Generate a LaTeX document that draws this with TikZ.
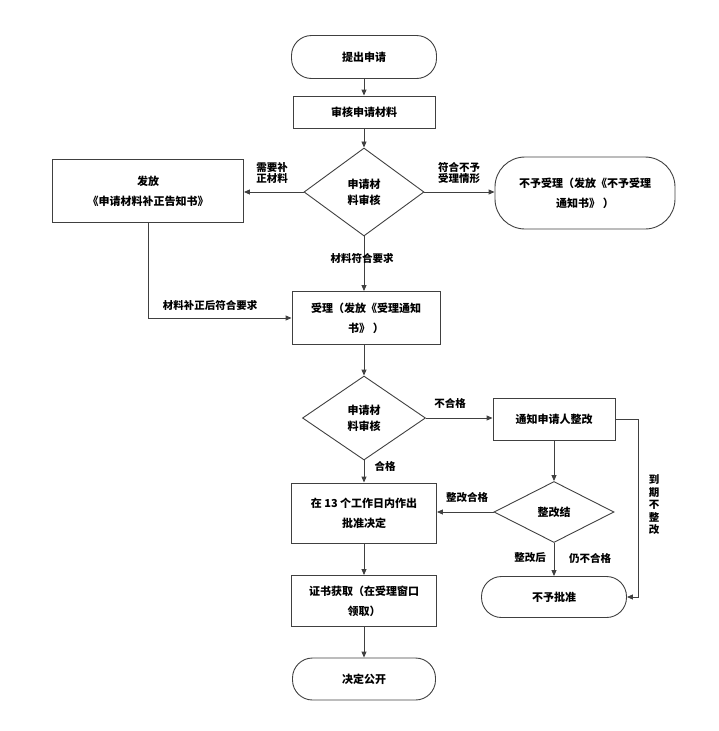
\documentclass[tikz,border=0pt]{standalone}
\usepackage{fontspec}
\setmainfont{Liberation Serif}
\newfontfamily\cjk{Noto Sans CJK SC}
\usepackage{tikz}
\usepackage{xcolor}
\usetikzlibrary{arrows.meta, positioning, shapes.geometric, calc}
\definecolor{LineGray}{HTML}{404040}

\begin{document}
\begin{tikzpicture}[
    x=1pt, y=-1pt,
    font=\cjk\bfseries\fontsize{11}{20}\selectfont,
    box/.style={rectangle, draw=LineGray, line width=0.9pt, align=center, inner sep=2pt},
    pill/.style={box, rounded corners=20pt},
    check/.style={diamond, draw=LineGray, line width=0.9pt, align=center, inner sep=0pt,
                  font=\cjk\bfseries\fontsize{11}{16}\selectfont},
    arr/.style={draw=LineGray, line width=0.9pt, -{Triangle[length=6pt, width=5pt]}},
    link/.style={draw=LineGray, line width=0.9pt},
    tag/.style={font=\cjk\bfseries\fontsize{10.5}{11.5}\selectfont, align=center, inner sep=1pt}
]
\useasboundingbox (0,0) rectangle (718,731);

% === Main column ===
\node[pill, minimum width=145pt, minimum height=43pt] (start) at (364,57) {提出申请};
\node[box, minimum width=142pt, minimum height=32pt] (review) at (364,112) {审核申请材料};
\node[check, minimum width=120pt, minimum height=88pt] (check1) at (364,192) {申请材\\料审核};
\node[box, minimum width=148pt, minimum height=53pt] (accept) at (366,318) {受理（发放《受理通知\\书》 ）};
\node[check, minimum width=123pt, minimum height=84pt] (check2) at (364,418) {申请材\\料审核};
\node[box, minimum width=145pt, minimum height=60pt] (decide) at (364,513) {在 13 个工作日内作出\\批准决定};
\node[box, minimum width=145pt, minimum height=51pt] (cert) at (364,601) {证书获取（在受理窗口\\领取）};
\node[pill, minimum width=143pt, minimum height=42pt] (publish) at (364,679) {决定公开};

% === Side nodes ===
\node[box, minimum width=191pt, minimum height=63pt] (notice) at (148,191) {发放\\《申请材料补正告知书》};
\node[pill, rounded corners=30pt, minimum width=180pt, minimum height=72pt] (reject) at (585,193) {不予受理（发放《不予受理\\通知书》 ）};
\node[box, minimum width=122pt, minimum height=42pt] (rectify) at (554,419) {通知申请人整改};
\node[check, minimum width=120pt, minimum height=61pt] (result) at (554,512) {整改结};
\node[pill, minimum width=145pt, minimum height=41pt] (deny) at (554,597) {不予批准};
\coordinate (bend) at (638,419);

% === Connectors ===
\draw[arr] (start) -- (review);
\draw[arr] (review) -- (check1);
\draw[arr] (check1.west) -- (check1.west -| notice.east);
\draw[arr] (check1.east) -- (check1.east -| reject.west);
\draw[arr] (check1.south) -- (check1.south |- accept.north);
\draw[arr] (notice.south) |- (accept.west);
\draw[arr] (accept.south -| check2.north) -- (check2.north);
\draw[arr] (check2.east) -- (check2.east -| rectify.west);
\draw[arr] (check2) -- (decide);
\draw[arr] (rectify) -- (result);
\draw[arr] (result.west) -- (result.west -| decide.east);
\draw[arr] (result) -- (deny);
\draw[link] (rectify.east) -- (bend);
\draw[arr] (bend) |- (deny.east);
\draw[arr] (decide) -- (cert);
\draw[arr] (cert) -- (publish);

% === Labels ===
\node[tag] (t1) at (272,173) {需要补\\正材料};
\node[tag] (t2) at (459,173) {符合不予\\受理情形};
\node[tag] (t3) at (362,258) {材料符合要求};
\node[tag] (t4) at (210,305) {材料补正后符合要求};
\node[tag] (t5) at (450,403) {不合格};
\node[tag] (t6) at (385,466) {合格};
\node[tag] (t7) at (467,497) {整改合格};
\node[tag] (t8) at (530,558) {整改后};
\node[tag] (t9) at (590,558) {仍不合格};
\node[tag, font=\cjk\bfseries\fontsize{10.5}{12.5}\selectfont] (t10) at (654,505) {到\\期\\不\\整\\改};
\end{tikzpicture}
\end{document}
